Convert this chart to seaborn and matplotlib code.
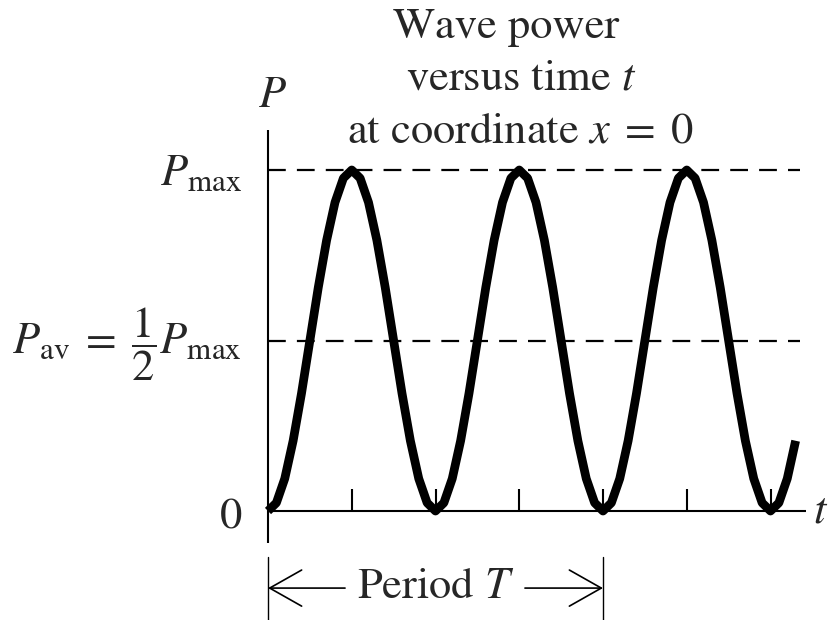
import matplotlib
matplotlib.use("Agg")
import matplotlib.pyplot as plt
import seaborn as sns

t_over_T = [
    0.000, 0.025, 0.050, 0.075, 0.100, 0.125, 0.150, 0.175, 0.200, 0.225,
    0.250, 0.275, 0.300, 0.325, 0.350, 0.375, 0.400, 0.425, 0.450, 0.475,
    0.500, 0.525, 0.550, 0.575, 0.600, 0.625, 0.650, 0.675, 0.700, 0.725,
    0.750, 0.775, 0.800, 0.825, 0.850, 0.875, 0.900, 0.925, 0.950, 0.975,
    1.000, 1.025, 1.050, 1.075, 1.100, 1.125, 1.150, 1.175, 1.200, 1.225,
    1.250, 1.275, 1.300, 1.325, 1.350, 1.375, 1.400, 1.425, 1.450, 1.475,
    1.500, 1.525, 1.550, 1.575,
]
p_over_pmax = [
    0.000, 0.024, 0.095, 0.206, 0.345, 0.500, 0.655, 0.794, 0.905, 0.976,
    1.000, 0.976, 0.905, 0.794, 0.655, 0.500, 0.345, 0.206, 0.095, 0.024,
    0.000, 0.024, 0.095, 0.206, 0.345, 0.500, 0.655, 0.794, 0.905, 0.976,
    1.000, 0.976, 0.905, 0.794, 0.655, 0.500, 0.345, 0.206, 0.095, 0.024,
    0.000, 0.024, 0.095, 0.206, 0.345, 0.500, 0.655, 0.794, 0.905, 0.976,
    1.000, 0.976, 0.905, 0.794, 0.655, 0.500, 0.345, 0.206, 0.095, 0.024,
    0.000, 0.024, 0.095, 0.206,
]
tick_positions = [0.25, 0.5, 0.75, 1.0, 1.25, 1.5]
ref_levels = [1.0, 0.5]          # P_max and P_av
ref_labels = [r"$P_{\rm max}$", r"$P_{\rm av}\;=\;\dfrac{1}{2}P_{\rm max}$"]
title_lines = ["Wave power", r"versus time $t$", r"at coordinate $x\;=\;0$"]

sns.set_style("white")
plt.rcParams["font.family"] = ["STIXGeneral", "DejaVu Serif"]
plt.rcParams["mathtext.fontset"] = "stix"

FS = 32

fig = plt.figure(figsize=(8.3, 6.2), dpi=100)
ax = fig.add_axes([0, 0, 1, 1])
ax.set_xlim(-0.8, 1.6776)
ax.set_ylim(-0.3196, 1.4985)
ax.axis("off")

# ── Axes drawn by hand ───────────────────────────────────
ax.plot([0, 0], [-0.094, 1.117], color="black", lw=1.5, solid_capstyle="butt")
ax.plot([0, 1.606], [0, 0], color="black", lw=1.5, solid_capstyle="butt")
for tp in tick_positions:
    ax.plot([tp, tp], [0, 0.0645], color="black", lw=1.5, solid_capstyle="butt")

# dashed reference levels
for lvl in ref_levels:
    ax.plot([0, 1.588], [lvl, lvl], color="black", lw=1.6,
            linestyle=(0, (8, 5)))

# ── Power curve ──────────────────────────────────────────
sns.lineplot(x=t_over_T, y=p_over_pmax, ax=ax, color="black", linewidth=6.3,
             sort=False, estimator=None)
ax.lines[-1].set_solid_joinstyle("round")
ax.lines[-1].set_solid_capstyle("butt")

# ── Labels ───────────────────────────────────────────────
ax.text(0.012, 1.214, r"$P$", fontsize=FS, ha="center", va="center")
ax.text(-0.078, 0.956, ref_labels[0], fontsize=FS, ha="right", va="baseline")
ax.text(-0.078, 0.463, ref_labels[1], fontsize=FS, ha="right", va="baseline")
ax.text(-0.078, -0.05, "0", fontsize=FS, ha="right", va="baseline")
ax.text(1.628, -0.035, r"$t$", fontsize=FS, ha="left", va="baseline")

title_x = [0.712, 0.755, 0.752]
title_y = [1.387, 1.235, 1.082]
for line, xx, yy in zip(title_lines, title_x, title_y):
    ax.text(xx, yy, line, fontsize=FS, ha="center", va="baseline")

# ── Period bracket ───────────────────────────────────────
for xb in [0, 1]:
    ax.plot([xb, xb], [-0.135, -0.34], color="black", lw=1.0)
arrow_y = -0.226
arrow_kw = dict(arrowstyle="->,head_length=2.3,head_width=1.3", lw=1.2,
                color="black", shrinkA=0, shrinkB=0)
ax.annotate("", xy=(0, arrow_y), xytext=(0.23, arrow_y), arrowprops=arrow_kw)
ax.annotate("", xy=(1, arrow_y), xytext=(0.767, arrow_y), arrowprops=arrow_kw)
ax.text(0.5, arrow_y, r"Period $T$", fontsize=FS, ha="center", va="center")

fig.savefig("out.png", dpi=100)
